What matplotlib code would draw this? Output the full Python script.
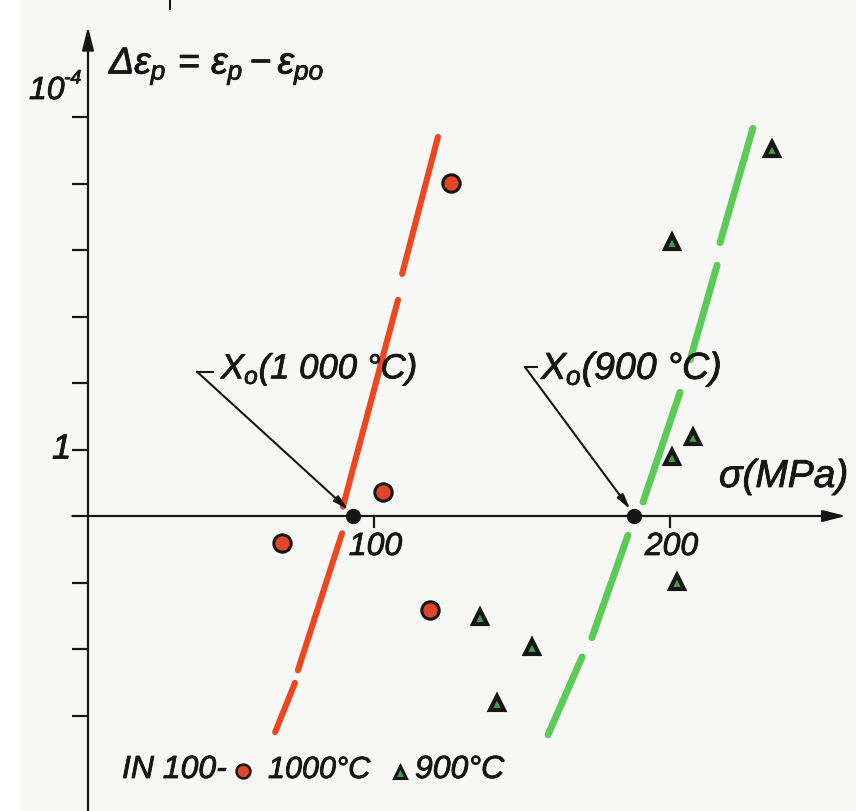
import matplotlib
matplotlib.use("Agg")
import matplotlib.pyplot as plt
import matplotlib.patheffects as pe
from matplotlib.patches import Rectangle

# ---- data (sigma in MPa, delta eps_p in units of 1e-4) ----
red_x = [126.0, 103.0, 68.9, 118.9]          # IN 100, 1000 °C
red_y = [5.01, 0.36, -0.41, -1.41]
green_x = [234.5, 200.7, 207.8, 200.7, 202.4, 135.8, 153.4, 141.6]   # IN 100, 900 °C
green_y = [5.52, 4.12, 1.19, 0.89, -0.99, -1.52, -1.97, -2.81]

# hand-drawn fit lines, drawn as broken pieces (x0, x1), (y0, y1)
red_fit_x = [(121.6, 109.5), (108.1, 89.5), (89.2, 74.3), (73.3, 66.6)]
red_fit_y = [(5.70, 3.64), (3.25, 0.14), (-0.26, -2.32), (-2.51, -3.25)]
green_fit_x = [(228.0, 216.9), (215.9, 206.8), (203.4, 190.9), (185.8, 173.6), (170.3, 158.8)]
green_fit_y = [(5.83, 4.11), (3.77, 2.35), (1.86, 0.21), (-0.29, -1.83), (-2.12, -3.29)]

# threshold stresses X0
x0_red = 93.0
x0_green = 188.0

y_ticks = [-3, -2, -1, 1, 2, 3, 4, 5, 6]
x_ticks = [100, 200]
x_tick_labels = ["100", "200"]

W, H = 856, 811
FONT = ["Liberation Sans", "DejaVu Sans"]
plt.rcParams["font.family"] = FONT
plt.rcParams["mathtext.fontset"] = "custom"
plt.rcParams["mathtext.rm"] = "Liberation Sans:italic"
plt.rcParams["mathtext.it"] = "Liberation Sans:italic"
plt.rcParams["mathtext.sf"] = "Liberation Sans:italic"

RED = "#ee4620"
RED_MK = "#e3452a"
GREEN = "#5acb55"
GREEN_MK = "#3f9e48"
INK = "#161616"
# slightly heavier pen stroke for the lettering
PEN = [pe.withStroke(linewidth=0.6, foreground=INK)]

fig = plt.figure(figsize=(W / 100, H / 100), dpi=100)
fig.patch.set_facecolor("#f7f7f5")
ax = fig.add_axes([0, 0, 1, 1])
ax.set_facecolor("#f7f7f5")
ax.axis("off")

# pixel -> data mapping of the hand-drawn scale
x_per_px = 1 / 2.96
y_per_px = 1 / 66.5
ax.set_xlim((0 - 78) * x_per_px, (W - 78) * x_per_px)
ax.set_ylim((516 - H) * y_per_px, 516 * y_per_px)

def P(px, py):
    """axes-fraction position from pixel position"""
    return px / W, 1 - py / H

def label(px, py, s, size, **kw):
    kw.setdefault("style", "italic")
    return ax.text(*P(px, py), s, transform=ax.transAxes, fontsize=size,
                   color=INK, ha="left", va="center", path_effects=PEN, **kw)

ax.add_patch(Rectangle((0, 0), 20 / W, 1, transform=ax.transAxes,
                       facecolor="white", edgecolor="none", zorder=0))

y_axis_x = (88 - 78) * x_per_px
# axes with arrow heads
ax.annotate("", xy=(y_axis_x, 7.36), xytext=(y_axis_x, -4.5),
            arrowprops=dict(arrowstyle="-|>,head_length=1.4,head_width=0.35",
                            lw=1.6, color=INK, shrinkA=0, shrinkB=0))
ax.annotate("", xy=(259.5, 0), xytext=(-1.9, 0),
            arrowprops=dict(arrowstyle="-|>,head_length=1.4,head_width=0.35",
                            lw=1.6, color=INK, shrinkA=0, shrinkB=0))
for yt in y_ticks:
    ax.plot([-2.1, y_axis_x], [yt, yt], color=INK, lw=1.6, solid_capstyle="butt")
for xt, lab in zip(x_ticks, x_tick_labels):
    ax.plot([xt, xt], [0, -0.17], color=INK, lw=1.6)
    ax.text(xt - 8.5, -0.24, lab, fontsize=23, style="italic", color=INK,
            ha="left", va="top", path_effects=PEN)

# small stray mark on the top edge
ax.plot([31.1, 31.1], [516 * y_per_px, 7.63], color=INK, lw=1.5)

# fit lines
for xs, ys in zip(red_fit_x, red_fit_y):
    ax.plot(xs, ys, color=RED, lw=4.4, solid_capstyle="round", zorder=3)
for xs, ys in zip(green_fit_x, green_fit_y):
    ax.plot(xs, ys, color=GREEN, lw=5.0, solid_capstyle="round", zorder=3)

# measured points
ax.plot(red_x, red_y, "o", ms=12.5, mfc=RED_MK, mec=INK, mew=2.2, zorder=5)
ax.plot(green_x, green_y, "^", ms=10.5, mfc=GREEN_MK, mec=INK, mew=3.0, zorder=5)

# X0 markers with leader arrows
for x0 in (x0_red, x0_green):
    ax.plot([x0], [0], "o", ms=10, color=INK, zorder=6)
arrow = dict(arrowstyle="-|>,head_length=0.9,head_width=0.22", lw=1.5,
             color=INK, shrinkA=0, shrinkB=3)
ax.annotate("", xy=(x0_red - 0.6, 0.05), xytext=(40.2, 2.17), arrowprops=arrow, zorder=6)
ax.plot([40.2, 45.6], [2.17, 2.17], color=INK, lw=1.5)
ax.annotate("", xy=(x0_green - 0.6, 0.05), xytext=(151.0, 2.24), arrowprops=arrow, zorder=6)
ax.plot([151.0, 155.0], [2.24, 2.24], color=INK, lw=1.5)

label(221, 369, r"$X_o$(1 000 °C)", 25, zorder=7)
label(541, 369, r"$X_o$(900 °C)", 27, zorder=7)

# axis titles
label(719, 477, "σ(MPa)", 28)
label(109, 66, r"$\Delta\varepsilon_p\,=\,\varepsilon_p - \varepsilon_{po}$", 27, style="normal")
label(29, 91, "10", 23)
label(64, 79, "-4", 14)
label(52, 449, "1", 25)

# key
label(122, 770, "IN 100-", 23)
ax.plot(*P(243, 771), "o", transform=ax.transAxes, ms=10, mfc=RED_MK, mec=INK, mew=1.8)
label(268, 770, "1000°C", 22)
ax.plot(*P(400, 772), "^", transform=ax.transAxes, ms=8.5, mfc=GREEN_MK, mec=INK, mew=2.2)
label(415, 770, "900°C", 23)

fig.savefig("out.png", dpi=100, facecolor=fig.get_facecolor())
